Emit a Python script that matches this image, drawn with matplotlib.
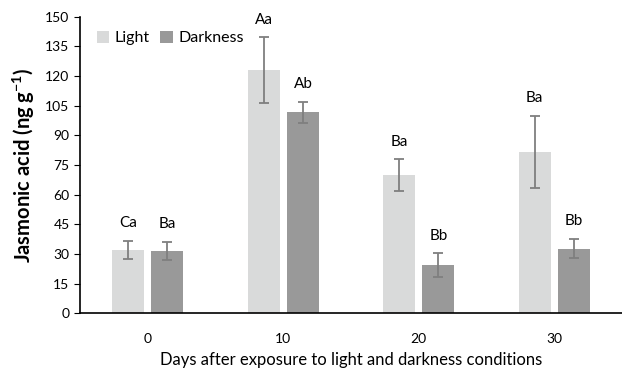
import matplotlib
matplotlib.use("Agg")
import matplotlib.pyplot as plt
import numpy as np

plt.rcParams['font.family'] = ['Lato', 'DejaVu Sans']
plt.rcParams['mathtext.fontset'] = 'custom'
plt.rcParams['mathtext.bf'] = 'Lato:bold'
plt.rcParams['mathtext.rm'] = 'Lato'

days = ["0", "10", "20", "30"]
light = [32.1, 122.8, 69.8, 81.4]
light_err = [4.6, 16.7, 8.0, 18.2]
dark = [31.4, 101.7, 24.2, 32.7]
dark_err = [4.6, 5.3, 6.1, 5.0]
light_letters = ["Ca", "Aa", "Ba", "Ba"]
dark_letters = ["Ba", "Ab", "Bb", "Bb"]
yticks = list(range(0, 151, 15))

fig = plt.figure(figsize=(6.22, 3.69), dpi=100)
ax = fig.add_axes([0.1286, 0.151, 0.8714, 0.804])

x = np.arange(len(days)) + 0.5
w = 0.235
off = 0.145
ekw = dict(ecolor='#7f7f7f', elinewidth=1.3, capsize=3.5, capthick=1.3)
ax.bar(x - off, light, w, yerr=light_err, color='#d9dada', label='Light', error_kw=ekw)
ax.bar(x + off, dark, w, yerr=dark_err, color='#999999', label='Darkness', error_kw=ekw)

for xi, v, e, t in zip(x - off, light, light_err, light_letters):
    ax.text(xi, v + e + 9, t, ha='center', va='center', fontsize=11)
for xi, v, e, t in zip(x + off, dark, dark_err, dark_letters):
    ax.text(xi, v + e + 9, t, ha='center', va='center', fontsize=11)

ax.set_xlim(0, 4)
ax.set_ylim(0, 150)
ax.set_yticks(yticks)
ax.set_xticks(x)
ax.set_xticklabels(days)
ax.tick_params(axis='x', length=0, labelsize=10, pad=14)
ax.tick_params(axis='y', length=4, labelsize=10, direction='out')
ax.spines['top'].set_visible(False)
ax.spines['right'].set_visible(False)
ax.spines['left'].set_linewidth(1.2)
ax.spines['bottom'].set_linewidth(1.2)

ax.set_ylabel('Jasmonic acid (ng g$^{\\mathbf{-1}}$)', fontsize=14.5, fontweight='bold', labelpad=6)
ax.set_xlabel('Days after exposure to light and darkness conditions', fontsize=12, labelpad=5)

ax.legend(loc='upper left', bbox_to_anchor=(0.01, 0.99), ncol=2, frameon=False, fontsize=11.5,
          handlelength=0.8, handleheight=0.8, handletextpad=0.3, columnspacing=0.7,
          borderaxespad=0.3)

fig.savefig('out.png', dpi=100)
